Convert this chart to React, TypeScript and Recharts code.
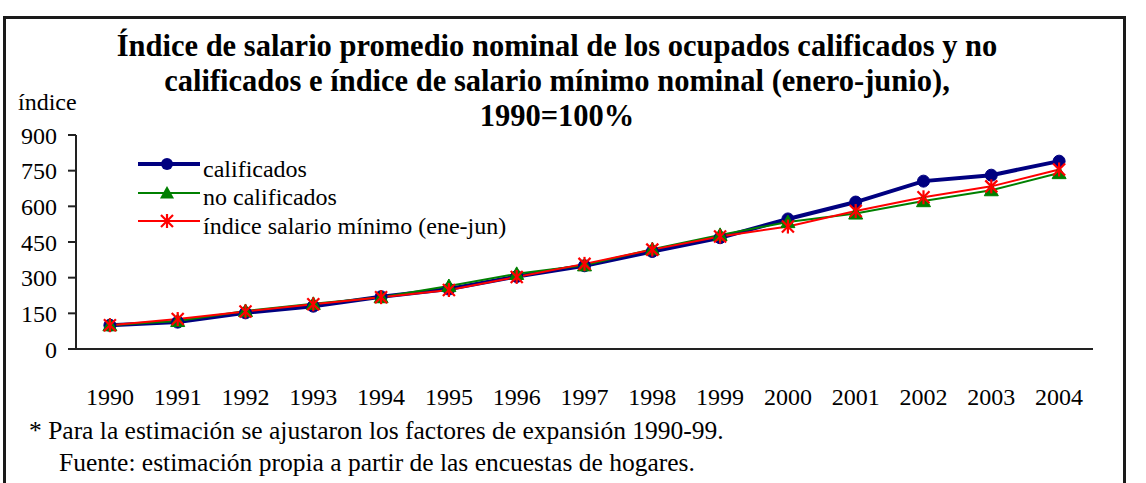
import React from 'react';
import { LineChart, Line, XAxis, YAxis, Legend } from 'recharts';

const years = [1990, 1991, 1992, 1993, 1994, 1995, 1996, 1997, 1998, 1999, 2000, 2001, 2002, 2003, 2004];
const calificados = [100, 113, 152, 180, 220, 252, 305, 350, 410, 468, 547, 618, 706, 731, 790];
const noCalificados = [100, 118, 160, 190, 218, 265, 316, 352, 420, 480, 534, 570, 622, 668, 740];
const salarioMinimo = [100, 126, 158, 188, 218, 248, 303, 358, 418, 473, 515, 580, 638, 684, 755];
const yTicks = [0, 150, 300, 450, 600, 750, 900];
const boundaryTicks = [1989.5, 1990.5, 1991.5, 1992.5, 1993.5, 1994.5, 1995.5, 1996.5, 1997.5, 1998.5, 1999.5, 2000.5, 2001.5, 2002.5, 2003.5, 2004.5];

const titleLines = [
  'Índice de salario promedio nominal de los ocupados calificados y no',
  'calificados e índice de salario mínimo nominal (enero-junio),',
  '1990=100%',
];
const footnote1 = '* Para la estimación se ajustaron los factores de expansión 1990-99.';
const footnote2 = 'Fuente: estimación propia a partir de las encuestas de hogares.';
const yLabel = 'índice';

const seriesNames = {
  calificados: 'calificados',
  noCalificados: 'no calificados',
  salarioMinimo: 'índice salario mínimo (ene-jun)',
};

const data = years.map((y, i) => ({
  year: y,
  calificados: calificados[i],
  noCalificados: noCalificados[i],
  salarioMinimo: salarioMinimo[i],
}));

const FONT = 'Liberation Serif, serif';
const BLUE = '#000080';
const GREEN = '#008000';
const RED = '#ff0000';

const Triangle = (props: any) => {
  const { cx, cy } = props;
  if (cx == null || cy == null) return null;
  const s = 7;
  return <polygon key={`t${cx}`} points={`${cx},${cy - s} ${cx - s},${cy + s * 0.8} ${cx + s},${cy + s * 0.8}`} fill={GREEN} stroke={GREEN} strokeWidth={1} />;
};

const Star = (props: any) => {
  const { cx, cy } = props;
  if (cx == null || cy == null) return null;
  const s = 6;
  return (
    <g key={`s${cx}`} stroke={RED} strokeWidth={2.2}>
      <line x1={cx - s} y1={cy - s} x2={cx + s} y2={cy + s} />
      <line x1={cx - s} y1={cy + s} x2={cx + s} y2={cy - s} />
      <line x1={cx} y1={cy - s - 1} x2={cx} y2={cy + s + 1} />
    </g>
  );
};

const LegendContent = () => {
  const items = [
    { key: 'calificados', color: BLUE, width: 4, marker: 'circle' },
    { key: 'noCalificados', color: GREEN, width: 2, marker: 'triangle' },
    { key: 'salarioMinimo', color: RED, width: 2, marker: 'star' },
  ];
  return (
    <div style={{ fontFamily: FONT, fontSize: 24, color: '#000' }}>
      {items.map((it) => (
        <div key={it.key} style={{ display: 'flex', alignItems: 'center', height: 28.5 }}>
          <svg width={66} height={20} style={{ marginTop: -10 }}>
            <line x1={1} y1={10} x2={63} y2={10} stroke={it.color} strokeWidth={it.width} />
            {it.marker === 'circle' && <circle cx={30} cy={10} r={6} fill={it.color} />}
            {it.marker === 'triangle' && <polygon points="30,3 23,15.6 37,15.6" fill={it.color} />}
            {it.marker === 'star' && (
              <g stroke={it.color} strokeWidth={2.2}>
                <line x1={24} y1={4} x2={36} y2={16} />
                <line x1={24} y1={16} x2={36} y2={4} />
                <line x1={30} y1={3} x2={30} y2={17} />
              </g>
            )}
          </svg>
          <span>{(seriesNames as any)[it.key]}</span>
        </div>
      ))}
    </div>
  );
};

export default function App() {
  return (
    <div style={{ position: 'absolute', left: 0, top: 0, width: 1146, height: 483, overflow: 'hidden', background: '#fff' }}>
      <div style={{ position: 'absolute', left: 3, top: 16, width: 1123, height: 520, border: '3px solid #1a1a1a', boxSizing: 'border-box' }} />
      <div style={{ position: 'absolute', left: 0, width: 1114, top: 29, textAlign: 'center', fontFamily: FONT, fontWeight: 'bold', fontSize: 30.5, lineHeight: '35px', color: '#000', whiteSpace: 'nowrap' }}>
        {titleLines.map((t) => (
          <div key={t}>{t}</div>
        ))}
      </div>
      <div style={{ position: 'absolute', left: 18, top: 89, fontFamily: FONT, fontSize: 24, color: '#000' }}>{yLabel}</div>
      <div style={{ position: 'absolute', left: 0, top: 0 }}>
        <LineChart width={1146} height={483} data={data} margin={{ top: 135, right: 53, bottom: 64, left: 16 }}>
          <YAxis
            domain={[0, 900]}
            ticks={yTicks}
            interval={0}
            width={60}
            axisLine={{ stroke: '#222', strokeWidth: 2 }}
            tickLine={{ stroke: '#222', strokeWidth: 2 }}
            tickSize={8}
            tickMargin={11}
            tick={{ fill: '#000', fontSize: 24, fontFamily: FONT }}
          />
          <XAxis
            xAxisId="b"
            dataKey="year"
            type="number"
            domain={[1989.5, 2004.5]}
            ticks={boundaryTicks}
            interval={0}
            height={10}
            axisLine={{ stroke: '#222', strokeWidth: 2 }}
            tickLine={{ stroke: '#222', strokeWidth: 2 }}
            tickSize={8}
            tick={false}
          />
          <XAxis
            xAxisId="l"
            dataKey="year"
            type="number"
            domain={[1989.5, 2004.5]}
            ticks={years}
            interval={0}
            height={60}
            axisLine={false}
            tickLine={false}
            tick={{ fill: '#000', fontSize: 24, fontFamily: FONT, dy: 21 }}
          />
          <Line xAxisId="l" dataKey="calificados" name={seriesNames.calificados} stroke={BLUE} strokeWidth={4} dot={{ r: 6, fill: BLUE, stroke: BLUE, strokeWidth: 1 }} isAnimationActive={false} />
          <Line xAxisId="l" dataKey="noCalificados" name={seriesNames.noCalificados} stroke={GREEN} strokeWidth={2} dot={Triangle} isAnimationActive={false} />
          <Line xAxisId="l" dataKey="salarioMinimo" name={seriesNames.salarioMinimo} stroke={RED} strokeWidth={2} dot={Star} isAnimationActive={false} />
          <Legend content={<LegendContent />} layout="vertical" verticalAlign="middle" align="center" wrapperStyle={{ position: 'absolute', left: 137, top: 155, width: 420 }} />
        </LineChart>
      </div>
      <div style={{ position: 'absolute', left: 29, top: 416, fontFamily: FONT, fontSize: 25.5, color: '#000', whiteSpace: 'nowrap' }}>{footnote1}</div>
      <div style={{ position: 'absolute', left: 59, top: 448, fontFamily: FONT, fontSize: 25.5, color: '#000', whiteSpace: 'nowrap' }}>{footnote2}</div>
    </div>
  );
}
